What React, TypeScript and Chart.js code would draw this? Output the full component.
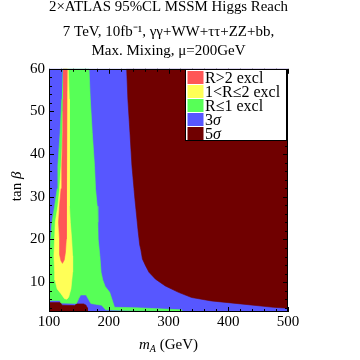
import React, { useEffect, useRef } from "react";
import { Chart, registerables } from "chart.js";

Chart.register(...registerables);

const FONT = "'Liberation Serif', 'Times New Roman', serif";

const TITLE_LINE = "2×ATLAS 95%CL MSSM Higgs Reach";
const SUBTITLE_LINES = ["7 TeV, 10fb⁻¹, γγ+WW+ττ+ZZ+bb,", "Max. Mixing, μ=200GeV"];

const X_MIN = 100;
const X_MAX = 500;
const Y_MIN = 3;
const Y_MAX = 60;
const X_TICKS = [100, 200, 300, 400, 500];
const Y_TICKS = [10, 20, 30, 40, 50, 60];
const X_MINOR_STEP = 20;
const Y_MINOR_STEP = 2;

const LEGEND_LABELS = ["R>2 excl", "1<R≤2 excl", "R≤1 excl", "3σ", "5σ"];
const COLORS = ["#ff5757", "#ffff57", "#57ff57", "#5757ff", "#700000"];

// region boundaries as [m_A, tanβ] pairs
const redRegion: [number, number][] = [
  [123.5, 60], [130.5, 60], [130.1, 52.9], [129.6, 45.1], [129.6, 37.3], [128.5, 31.9],
  [128.5, 27.8], [128.5, 24], [129, 20.1], [127.5, 17], [125.5, 15.2], [122.5, 14.4],
  [120, 15], [117.6, 16.5], [117.6, 20.1], [116, 24], [117.6, 27.8], [120.2, 31.9],
  [121.4, 37.3], [123, 45.1], [123.5, 52.9],
];

const yellowRegion: [number, number][] = [
  [124, 60], [132.4, 60], [134, 52.9], [135, 45.1], [134, 37.3], [134, 31.9], [134, 27.8],
  [135.7, 24], [137.9, 20.1], [139.5, 16.2], [139.5, 12.3], [136.7, 8.4], [133, 6.5],
  [130, 6.0], [126, 6.1], [120, 7.3], [113.7, 8.4], [110, 10.5], [109.4, 12.3],
  [108.2, 16.2], [109.4, 20.1], [110.4, 24], [114.8, 27.8], [117.6, 31.7], [120.2, 37.3],
  [122, 42], [123.5, 50],
];

const greenRegion: [number, number][] = [
  [123, 60], [167, 60], [169.1, 52.9], [172.4, 45.1], [176.2, 37.3], [177.9, 31.9],
  [180.7, 27.8], [181.8, 24], [182.3, 20.1], [185.1, 16.2], [187.2, 12.3], [190, 10.5],
  [194, 9], [201.6, 7.6], [207, 5.3], [209.7, 4.1], [245, 4.0], [322, 3.5], [322, 3.25],
  [245, 3.3], [195, 3.5], [188, 4.6], [178, 4.8], [170, 5.0], [166, 6.0], [162, 7.0],
  [153, 7.0], [150, 6.2], [146, 5.0], [120, 5.1], [118, 5.7], [101, 5.7], [101, 12.3],
  [101.1, 16.2], [102.8, 20.1], [104.9, 24], [109.4, 27.8], [113.7, 31.9], [114.8, 37.3],
  [118.6, 45.1], [121.4, 52.9],
];

const blueRegion: [number, number][] = [
  [100, 3], [500, 3], [500, 60], [100, 60],
];

const darkRedMain: [number, number][] = [
  [230, 60], [232, 52.9], [235.5, 45.1], [238.8, 37.3], [243.7, 29.6], [249.3, 21.8],
  [251.9, 18.7], [253.6, 17.7], [256.4, 15.4], [261.8, 13.8], [267.4, 12.3], [278.3, 10.7],
  [294.7, 9.1], [316.8, 7.6], [338.7, 6.4], [371.6, 5.6], [421, 4.9], [475.8, 4.1],
  [500, 3.9], [500, 60],
];

const darkRedCorner: [number, number][] = [
  [100, 3], [100, 5.25], [119, 5.25], [122, 4.6], [143, 4.5], [146, 4.9], [158, 4.9],
  [162, 4.6], [164, 4.0], [164.5, 3],
];

const toPts = (arr: [number, number][]) => arr.map(([x, y]) => ({ x, y }));

const region = (label: string, arr: [number, number][], color: string) => ({
  label,
  data: toPts(arr),
  showLine: true,
  fill: "shape",
  backgroundColor: color,
  borderColor: color,
  borderWidth: 0.6,
  pointRadius: 0,
  pointHoverRadius: 0,
  tension: 0,
});

type Seg = { t: string; it?: boolean; size?: number; dy?: number };

function drawSegs(ctx: CanvasRenderingContext2D, segs: Seg[], x: number, y: number, base: number, align: "left" | "center") {
  const fontFor = (s: Seg) => `${s.it ? "italic " : ""}${s.size || base}px ${FONT}`;
  let total = 0;
  for (const s of segs) {
    ctx.font = fontFor(s);
    total += ctx.measureText(s.t).width;
  }
  let cx = align === "center" ? x - total / 2 : x;
  ctx.textAlign = "left";
  ctx.textBaseline = "alphabetic";
  for (const s of segs) {
    ctx.font = fontFor(s);
    ctx.fillText(s.t, cx, y + (s.dy || 0));
    cx += ctx.measureText(s.t).width;
  }
}

const framePlugin = {
  id: "frameTicks",
  afterDatasetsDraw(chart: any) {
    const { ctx, chartArea: a, scales } = chart;
    const xs = scales.x;
    const ys = scales.y;
    ctx.save();
    ctx.strokeStyle = "#000";
    ctx.lineWidth = 1;
    ctx.beginPath();
    for (let v = X_MIN; v <= X_MAX; v += X_MINOR_STEP) {
      const px = Math.round(xs.getPixelForValue(v)) + 0.5;
      const len = X_TICKS.includes(v) ? 5 : 3;
      ctx.moveTo(px, a.bottom);
      ctx.lineTo(px, a.bottom - len);
      ctx.moveTo(px, a.top);
      ctx.lineTo(px, a.top + len);
    }
    const yStart = Math.ceil(Y_MIN / Y_MINOR_STEP) * Y_MINOR_STEP;
    for (let v = yStart; v <= Y_MAX; v += Y_MINOR_STEP) {
      const py = Math.round(ys.getPixelForValue(v)) + 0.5;
      const len = Y_TICKS.includes(v) ? 5 : 3;
      ctx.moveTo(a.left, py);
      ctx.lineTo(a.left + len, py);
      ctx.moveTo(a.right, py);
      ctx.lineTo(a.right - len, py);
    }
    ctx.stroke();
    ctx.strokeRect(Math.round(a.left) + 0.5, Math.round(a.top) + 0.5, Math.round(a.width) - 1, Math.round(a.height) - 1);
    ctx.restore();
  },
  afterDraw(chart: any) {
    const { ctx, chartArea: a } = chart;
    ctx.save();
    ctx.fillStyle = "#000";
    // x-axis title
    drawSegs(ctx, [
      { t: "m", it: true },
      { t: "A", it: true, size: 10, dy: 3 },
      { t: " (GeV)" },
    ], (a.left + a.right) / 2, 349, 15, "center");
    // y-axis title
    ctx.translate(20.5, (a.top + a.bottom) / 2 - 4);
    ctx.rotate(-Math.PI / 2);
    drawSegs(ctx, [{ t: "tan " }, { t: "β", it: true }], 0, 0, 15, "center");
    ctx.restore();

    // legend
    ctx.save();
    const w = 101;
    const h = 71;
    const left = Math.round(a.right) - 103 + 0.5;
    const top = Math.round(a.top) + 0.5;
    ctx.fillStyle = "#fff";
    ctx.fillRect(left, top, w, h);
    ctx.strokeStyle = "#000";
    ctx.lineWidth = 1;
    ctx.strokeRect(left, top, w, h);
    LEGEND_LABELS.forEach((label, i) => {
      const ry = top + 1.5 + i * 14;
      ctx.fillStyle = COLORS[i];
      ctx.fillRect(left + 2, ry, 16, 13);
      ctx.fillStyle = "#000";
      const segs: Seg[] = label.endsWith("σ")
        ? [{ t: label.slice(0, -1) }, { t: "σ", it: true }]
        : [{ t: label }];
      drawSegs(ctx, segs, left + 19.5, ry + 11.5, 16, "left");
    });
    ctx.restore();
  },
};

export default function App() {
  const ref = useRef<HTMLCanvasElement | null>(null);
  useEffect(() => {
    if (!ref.current) return;
    const chart = new Chart(ref.current, {
      type: "scatter",
      data: {
        datasets: [
          region(LEGEND_LABELS[0], redRegion, COLORS[0]),
          region(LEGEND_LABELS[1], yellowRegion, COLORS[1]),
          region(LEGEND_LABELS[2], greenRegion, COLORS[2]),
          region(LEGEND_LABELS[4], darkRedMain, COLORS[4]),
          region(LEGEND_LABELS[4], darkRedCorner, COLORS[4]),
          region(LEGEND_LABELS[3], blueRegion, COLORS[3]),
        ] as any,
      },
      options: {
        animation: false,
        responsive: true,
        maintainAspectRatio: false,
        events: [],
        layout: { padding: { left: 26, right: 72, top: 0, bottom: 28 } },
        plugins: {
          legend: { display: false },
          tooltip: { enabled: false },
          title: {
            display: true,
            text: TITLE_LINE,
            fullSize: false,
            color: "#000",
            font: { family: FONT, size: 15, weight: "normal", lineHeight: 1 },
            padding: { top: 0, bottom: 8 },
          },
          subtitle: {
            display: true,
            text: SUBTITLE_LINES,
            fullSize: false,
            color: "#000",
            font: { family: FONT, size: 15, weight: "normal", lineHeight: 1.227 },
            padding: { top: 0, bottom: 9 },
          },
        },
        scales: {
          x: {
            type: "linear",
            min: X_MIN,
            max: X_MAX,
            afterBuildTicks: (s: any) => {
              s.ticks = X_TICKS.map((v) => ({ value: v }));
            },
            grid: { display: false, drawTicks: false },
            border: { display: false },
            ticks: {
              color: "#000",
              font: { family: FONT, size: 15 },
              padding: 1,
              maxRotation: 0,
              autoSkip: false,
            },
          },
          y: {
            type: "linear",
            min: Y_MIN,
            max: Y_MAX,
            afterBuildTicks: (s: any) => {
              s.ticks = Y_TICKS.map((v) => ({ value: v }));
            },
            grid: { display: false, drawTicks: false },
            border: { display: false },
            ticks: {
              color: "#000",
              font: { family: FONT, size: 15 },
              padding: 4,
              autoSkip: false,
            },
          },
        },
      } as any,
      plugins: [framePlugin],
    });
    return () => chart.destroy();
  }, []);
  return (
    <div style={{ position: "fixed", left: 0, top: 0, width: 360, height: 360, background: "#fff" }}>
      <canvas ref={ref} />
    </div>
  );
}
